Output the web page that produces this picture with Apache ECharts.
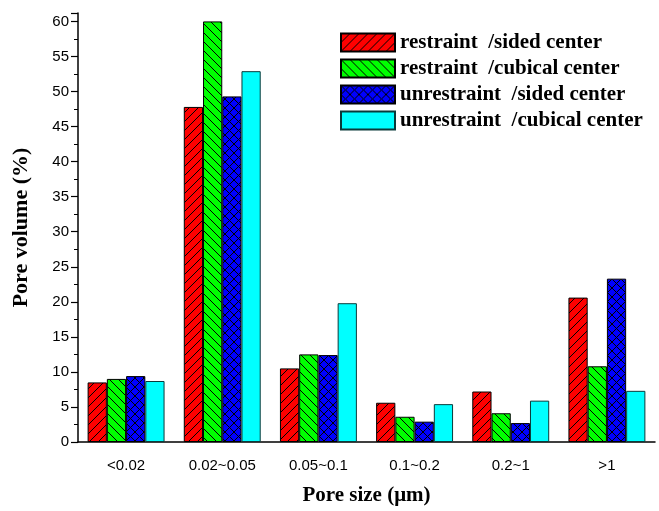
<!DOCTYPE html>
<html><head><meta charset="utf-8">
<script src="https://cdn.jsdelivr.net/npm/echarts@6/dist/echarts.min.js"></script>
<style>html,body{margin:0;padding:0;background:#fff}#c{width:659px;height:511px}</style>
</head><body><div id="c"></div>
<script>
const categories = ['<0.02', '0.02~0.05', '0.05~0.1', '0.1~0.2', '0.2~1', '>1'];
const seriesNames = ['restraint  /sided center', 'restraint  /cubical center', 'unrestraint  /sided center', 'unrestraint  /cubical center'];
const restraintSided = [8.5, 47.8, 10.5, 5.6, 7.2, 20.6];
const restraintCubical = [9.0, 60.0, 12.5, 3.6, 4.1, 10.8];
const unrestraintSided = [9.4, 49.3, 12.4, 2.9, 2.7, 23.3];
const unrestraintCubical = [8.7, 52.9, 19.8, 5.4, 5.9, 7.3];
const yTicks = [0, 5, 10, 15, 20, 25, 30, 35, 40, 45, 50, 55, 60];

function makePattern(bg, kind) {
  const s = 9;
  const c = document.createElement('canvas');
  c.width = s; c.height = s;
  const g = c.getContext('2d');
  g.fillStyle = bg; g.fillRect(0, 0, s, s);
  g.strokeStyle = '#000'; g.lineWidth = 1;
  g.beginPath();
  if (kind === 'fwd' || kind === 'cross') {
    g.moveTo(-1, s + 1); g.lineTo(s + 1, -1);
  }
  if (kind === 'back' || kind === 'cross') {
    g.moveTo(-1, -1); g.lineTo(s + 1, s + 1);
  }
  g.stroke();
  return { image: c, repeat: 'repeat' };
}

const fills = [
  makePattern('#ff0000', 'fwd'),
  makePattern('#00ff00', 'back'),
  makePattern('#0000ff', 'cross'),
  '#00ffff'
];
const borders = ['#000', '#000', '#000', '#0a3a3a'];
const dataSets = [restraintSided, restraintCubical, unrestraintSided, unrestraintCubical];

const chart = echarts.init(document.getElementById('c'), null, { renderer: 'canvas' });
chart.setOption({
  animation: false,
  backgroundColor: '#fff',
  grid: { left: 78, right: 4, top: 13, bottom: 68 },
  legend: {
    orient: 'vertical', left: 340, top: 32, padding: 0,
    itemWidth: 54, itemHeight: 18, itemGap: 5,
    icon: 'rect',
    textStyle: { fontFamily: 'Liberation Serif', fontWeight: 'bold', fontSize: 21, color: '#000' },
    data: seriesNames
  },
  xAxis: [{
    type: 'category', data: categories, position: 'bottom',
    axisLine: { lineStyle: { color: '#000', width: 1.5 } },
    axisTick: { alignWithLabel: true, length: 9, lineStyle: { color: '#000', width: 1.5 } },
    axisLabel: { margin: 16, fontFamily: 'Liberation Sans', fontSize: 15, color: '#000' },
    name: 'Pore size (\u03bcm)', nameLocation: 'middle', nameGap: 43,
    nameTextStyle: { fontFamily: 'Liberation Serif', fontWeight: 'bold', fontSize: 21, color: '#000' }
  }, {
    type: 'category', data: categories, position: 'bottom', offset: 0,
    axisLine: { show: false },
    axisTick: { length: 4, lineStyle: { color: '#000', width: 1.2 } },
    axisLabel: { show: false }
  }],
  yAxis: {
    type: 'value', min: 0, max: 61.2, interval: 5,
    axisLine: { show: true, lineStyle: { color: '#000', width: 1.5 } },
    axisTick: { show: true, length: 7, lineStyle: { color: '#000', width: 1.2 } },
    minorTick: { show: true, splitNumber: 2, length: 4, lineStyle: { color: '#000', width: 1 } },
    splitLine: { show: false },
    axisLabel: {
      showMaxLabel: false, margin: 9, fontFamily: 'Liberation Sans', fontSize: 15, color: '#000',
      formatter: v => (yTicks.indexOf(v) >= 0 ? String(v) : '')
    },
    name: 'Pore volume (%)', nameLocation: 'middle', nameGap: 46, nameRotate: 90,
    nameTextStyle: { fontFamily: 'Liberation Serif', fontWeight: 'bold', fontSize: 22, color: '#000' }
  },
  series: seriesNames.map((n, i) => ({
    name: n, type: 'bar', data: dataSets[i],
    barGap: '0%', barCategoryGap: '20%',
    itemStyle: { color: fills[i], borderColor: borders[i], borderWidth: 1 }
  }))
});
</script></body></html>
